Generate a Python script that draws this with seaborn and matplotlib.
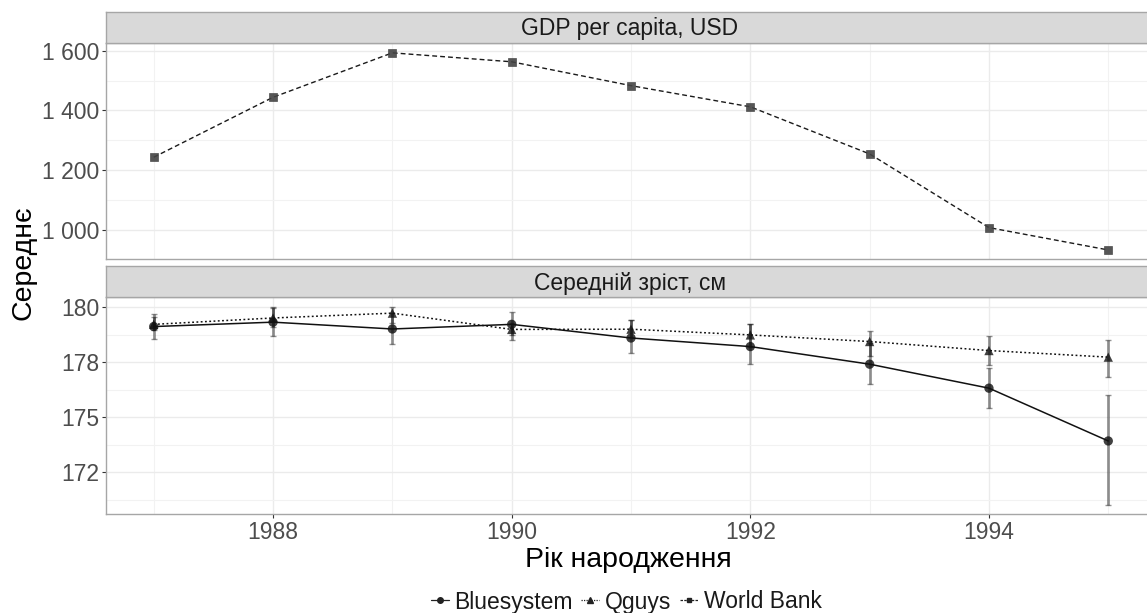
import numpy as np
import pandas as pd
import matplotlib
matplotlib.use("Agg")
import matplotlib.pyplot as plt
from matplotlib.ticker import FixedLocator, FuncFormatter
from matplotlib.lines import Line2D
import seaborn as sns

# ---------------- data ----------------
years = [1987, 1988, 1989, 1990, 1991, 1992, 1993, 1994, 1995]
gdp_world_bank = [1243, 1444, 1593, 1563, 1483, 1412, 1254, 1007, 932]

blue_mean = [179.12, 179.32, 179.01, 179.22, 178.60, 178.21, 177.41, 176.32, 173.92]
blue_lo = [178.55, 178.70, 178.32, 178.50, 177.91, 177.41, 176.51, 175.41, 171.01]
blue_hi = [179.68, 180.00, 179.73, 179.80, 179.41, 179.23, 178.36, 177.23, 176.01]

qguys_mean = [179.22, 179.51, 179.73, 178.99, 179.00, 178.74, 178.44, 178.03, 177.73]
qguys_lo = [178.95, 179.10, 179.30, 178.75, 178.66, 178.21, 177.80, 177.38, 176.82]
qguys_hi = [179.55, 179.95, 180.00, 179.30, 179.42, 179.23, 178.92, 178.70, 178.51]

series_names = ["Bluesystem", "Qguys", "World Bank"]
strip_titles = ["GDP per capita, USD", "Середній зріст, см"]
x_title = "Рік народження"
y_title = "Середнє"

top_yticks = [1000, 1200, 1400, 1600]
bottom_yticks = [172.5, 175, 177.5, 180]
x_major = [1988, 1990, 1992, 1994]

# ---------------- style ----------------
sns.set_theme(style="white")
plt.rcParams['font.family'] = ['Liberation Sans', 'DejaVu Sans']

W, H = 1147, 613
fig = plt.figure(figsize=(W / 100, H / 100), dpi=100)

def fx(px):
    return px / W

def fy(py):
    return 1 - py / H

left_px, right_px = 106.0, 1156.0
top_panel = (42.7, 259.3)
bot_panel = (297.3, 514.0)
top_strip = (11.7, 42.7)
bot_strip = (266.0, 297.3)

def make_axes(ypx):
    y0, y1 = ypx
    return fig.add_axes([fx(left_px), fy(y1), fx(right_px - left_px), (y1 - y0) / H])

ax_top = make_axes(top_panel)
ax_bot = make_axes(bot_panel)
st_top = make_axes(top_strip)
st_bot = make_axes(bot_strip)

border_col = "#A6A6A6"
grid_col = "#EBEBEB"
text_col = "#4D4D4D"
fs_tick = 16.5
fs_title = 20.5

for st, title in zip([st_top, st_bot], strip_titles):
    st.set_facecolor("#D9D9D9")
    st.set_xticks([])
    st.set_yticks([])
    for sp in st.spines.values():
        sp.set_color(border_col)
        sp.set_linewidth(1.0)
    st.text(0.5 * (1147 - left_px) / (right_px - left_px) + 0.0 if False else (630 - left_px) / (right_px - left_px),
            0.45, title, transform=st.transAxes, ha="center", va="center",
            fontsize=fs_tick, color="#1A1A1A")

xlim = (1986.6, 1995.4)

def style_panel(ax, yticks, yminor, ylim, show_x):
    ax.set_xlim(*xlim)
    ax.set_ylim(*ylim)
    ax.set_facecolor("white")
    ax.xaxis.set_major_locator(FixedLocator(x_major))
    ax.xaxis.set_minor_locator(FixedLocator([1987, 1989, 1991, 1993, 1995]))
    ax.yaxis.set_major_locator(FixedLocator(yticks))
    ax.yaxis.set_minor_locator(FixedLocator(yminor))
    ax.grid(True, which="major", color=grid_col, linewidth=1.0, zorder=0)
    ax.grid(True, which="minor", color="#F2F2F2", linewidth=0.8, zorder=0)
    ax.set_axisbelow(True)
    for sp in ax.spines.values():
        sp.set_color(border_col)
        sp.set_linewidth(1.0)
    ax.yaxis.set_major_formatter(FuncFormatter(lambda v, p: f"{round(v):,}".replace(",", " ")))
    ax.tick_params(axis="y", which="major", left=True, length=3, width=0.8, color="#333333",
                   labelsize=fs_tick, labelcolor=text_col, pad=2)
    ax.tick_params(axis="y", which="minor", left=False)
    ax.tick_params(axis="x", which="minor", bottom=False)
    if show_x:
        ax.tick_params(axis="x", which="major", bottom=True, length=3, width=0.8, color="#333333",
                       labelsize=fs_tick, labelcolor=text_col, pad=2)
    else:
        ax.tick_params(axis="x", which="major", bottom=False, labelbottom=False)
    ax.set_xlabel("")
    ax.set_ylabel("")

# ---------------- top panel ----------------
df_gdp = pd.DataFrame({"year": years, "value": gdp_world_bank, "source": "World Bank"})
sns.lineplot(data=df_gdp, x="year", y="value", ax=ax_top, color="#1A1A1A",
             linewidth=1.0, dashes=False, legend=False, zorder=3)
ax_top.lines[-1].set_dashes((3.5, 2.2))
sns.scatterplot(data=df_gdp, x="year", y="value", ax=ax_top, marker="s", s=34,
                color="#444444", edgecolor="#444444", linewidth=0.5, alpha=0.9,
                legend=False, zorder=4)
style_panel(ax_top, top_yticks, [1100, 1300, 1500], (900.7, 1627), show_x=False)

# ---------------- bottom panel ----------------
df_h = pd.DataFrame({
    "year": years * 2,
    "mean": blue_mean + qguys_mean,
    "lo": blue_lo + qguys_lo,
    "hi": blue_hi + qguys_hi,
    "source": ["Bluesystem"] * len(years) + ["Qguys"] * len(years),
})

for src in ["Bluesystem", "Qguys"]:
    d = df_h[df_h["source"] == src]
    ax_bot.errorbar(d["year"], d["mean"], yerr=[d["mean"] - d["lo"], d["hi"] - d["mean"]],
                    fmt="none", ecolor=(0, 0, 0, 0.42), elinewidth=2.0, capsize=2.2,
                    capthick=1.0, zorder=2)

sns.lineplot(data=df_h, x="year", y="mean", style="source", ax=ax_bot,
             dashes={"Bluesystem": "", "Qguys": (1.2, 1.6)}, color="#111111",
             linewidth=1.1, legend=False, zorder=3)
sns.scatterplot(data=df_h, x="year", y="mean", style="source", ax=ax_bot,
                markers={"Bluesystem": "o", "Qguys": "^"}, s=45, color="#111111",
                edgecolor="none", alpha=0.8, legend=False, zorder=4)
style_panel(ax_bot, bottom_yticks, [171.25, 173.75, 176.25, 178.75], (170.6, 180.45), show_x=True)

# ---------------- titles ----------------
fig.text(fx(628), fy(567), x_title, ha="center", va="baseline", fontsize=fs_title, color="black")
fig.text(fx(24), fy(263), y_title, ha="center", va="center", rotation=90, fontsize=fs_title,
         color="black")

# ---------------- legend ----------------
handles = [
    Line2D([], [], color="#222222", linestyle="-", marker="o", markersize=4, linewidth=0.9),
    Line2D([], [], color="#222222", linestyle=(0, (1, 1)), marker="^", markersize=4, linewidth=0.9),
    Line2D([], [], color="#222222", linestyle=(0, (2, 1)), marker="s", markersize=3.5, linewidth=0.9),
]
fig.legend(handles, series_names, loc="center", bbox_to_anchor=(fx(626), fy(602)), ncol=3,
           frameon=False, fontsize=fs_tick, handlelength=0.8, handletextpad=0.25,
           columnspacing=0.35, borderpad=0, labelcolor="#1A1A1A")

fig.savefig("out.png", dpi=100)
